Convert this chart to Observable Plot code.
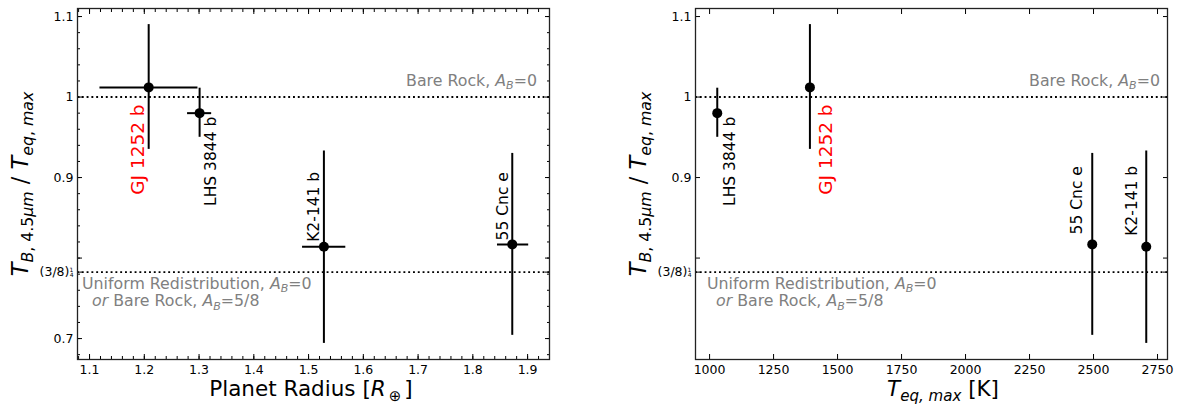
<!DOCTYPE html>
<html><head><meta charset="utf-8">
<script src="https://cdn.jsdelivr.net/npm/d3@7"></script>
<script src="https://cdn.jsdelivr.net/npm/@observablehq/plot@0.6"></script>
<style>
body{margin:0;background:#fff;}
#wrap{display:flex;width:1178px;height:407px;}
#wrap svg text{white-space:pre;}
</style></head><body><div id="wrap"></div>
<script>
// ---- data ----
const planets = ["GJ 1252 b", "LHS 3844 b", "K2-141 b", "55 Cnc e"];
const radius = [1.208, 1.301, 1.528, 1.872];
const radiusLo = [1.119, 1.279, 1.489, 1.845];
const radiusHi = [1.298, 1.323, 1.568, 1.902];
const teqMax = [1392, 1030, 2706, 2495];
const ratio = [1.012, 0.980, 0.814, 0.817];
const ratioLo = [0.935, 0.950, 0.694, 0.704];
const ratioHi = [1.090, 1.011, 0.933, 0.930];
const highlight = ["GJ 1252 b"];
const refLevels = [1, Math.pow(3 / 8, 0.25)];
const leftXTicks = [1.1, 1.2, 1.3, 1.4, 1.5, 1.6, 1.7, 1.8, 1.9];
const rightXTicks = [1000, 1250, 1500, 1750, 2000, 2250, 2500, 2750];
const leftYLabelTicks = [1.1, 1.0, 0.9, refLevels[1], 0.7];
const leftYTicks = [1.1, 1.0, 0.9, 0.8, refLevels[1], 0.7];
const rightYLabelTicks = [1.1, 1.0, 0.9, refLevels[1]];
const rightYTicks = [1.1, 1.0, 0.9, 0.8, refLevels[1]];

// ---- layout ----
const W = 589, H = 407, MT = 8, MB = 48;
const FONT = "DejaVu Sans";

function rich(parent, {x, y, anchor = "start", rotate = 0, size, fill = "black"}, parts) {
  const t = parent.append("text")
    .attr("transform", `translate(${x},${y})` + (rotate ? ` rotate(${rotate})` : ""))
    .attr("text-anchor", anchor).attr("font-family", FONT)
    .attr("font-size", size).attr("fill", fill).style("white-space", "pre");
  let shift = 0;
  for (const p of parts) {
    const s = p.sub ? size * 0.7 : size;
    const target = p.sub ? size * 0.22 : 0;
    const ts = t.append("tspan").text(p.t).attr("font-size", s);
    if (p.it) ts.attr("font-style", "italic");
    if (target !== shift) { ts.attr("dy", target - shift); shift = target; }
  }
  return t;
}

function panel(cfg) {
  const rows = planets.map((name, i) => ({
    name, x: cfg.xs[i], xlo: radiusLo[i], xhi: radiusHi[i],
    y: ratio[i], ylo: ratioLo[i], yhi: ratioHi[i]
  }));
  const marks = [
    Plot.ruleY(refLevels, {stroke: "black", strokeWidth: 1.9, strokeDasharray: "1.9,2.9"}),
    Plot.ruleX(rows, {x: "x", y1: "ylo", y2: "yhi", stroke: "black", strokeWidth: 2})
  ];
  if (cfg.xerr) marks.push(Plot.ruleY(rows, {y: "y", x1: "xlo", x2: "xhi", stroke: "black", strokeWidth: 2}));
  marks.push(Plot.dot(rows, {x: "x", y: "y", r: 5, fill: "black", stroke: null}));
  rows.forEach((r) => {
    const o = cfg.labels[r.name];
    const hi = highlight.includes(r.name);
    marks.push(Plot.text([r], {
      x: "x", y: "y", text: "name", rotate: -90, textAnchor: o.anchor, lineAnchor: "middle",
      dx: o.dx, dy: o.dy, fontSize: hi ? 18.5 : 15.5, fill: hi ? "#ff0000" : "black"
    }));
  });
  // inward ticks (major)
  const tick = {tickFormat: () => "", label: null, stroke: "black"};
  marks.push(
    Plot.axisX(cfg.xTicks, {anchor: "bottom", tickSize: 5, dy: -5, ...tick}),
    Plot.axisX(cfg.xTicks, {anchor: "top", tickSize: 5, dy: 5, ...tick}),
    Plot.axisY(cfg.yTicks, {anchor: "left", tickSize: 5, dx: 5, ...tick}),
    Plot.axisY(cfg.yTicks, {anchor: "right", tickSize: 5, dx: -5, ...tick})
  );
  if (cfg.minorX) marks.push(
    Plot.axisX(cfg.minorX, {anchor: "bottom", tickSize: 3, dy: -3, ...tick}),
    Plot.axisX(cfg.minorX, {anchor: "top", tickSize: 3, dy: 3, ...tick}),
    Plot.axisY(cfg.minorY, {anchor: "left", tickSize: 3, dx: 3, ...tick}),
    Plot.axisY(cfg.minorY, {anchor: "right", tickSize: 3, dx: -3, ...tick})
  );
  // tick labels
  marks.push(
    Plot.axisX(cfg.xTicks, {anchor: "bottom", tickSize: 0, tickPadding: 6, tickFormat: cfg.xFormat, label: null, fontSize: 12.5}),
    Plot.axisY(cfg.yLabelTicks, {anchor: "left", tickSize: 0, tickPadding: 4, label: null, fontSize: 12.5,
      tickFormat: d => d === refLevels[1] ? "(3/8)" : (d === 1 ? "1" : d3.format(".1f")(d))})
  );
  marks.push(Plot.frame({stroke: "#222", strokeWidth: 1.3}));

  const plot = Plot.plot({
    width: W, height: H, marginLeft: cfg.ml, marginRight: cfg.mr, marginTop: MT, marginBottom: MB,
    x: {domain: cfg.xDomain}, y: {domain: [0.674, 1.110]},
    style: {background: "white", fontFamily: FONT, fontSize: "12.5px", overflow: "visible"},
    marks
  });
  const svg = d3.select(plot);
  const ys = plot.scale("y");
  // (3/8)^(1/4) label
  svg.selectAll("text").filter(function () { return this.textContent === "(3/8)"; }).each(function () {
    const t = d3.select(this);
    t.append("tspan").attr("font-size", 6).attr("dy", -4.5).text("1");
    t.append("tspan").attr("font-size", 6).attr("dx", -3.6).attr("dy", 5).text("4");
  });
  const gray = "#808080";
  rich(svg, {x: W - cfg.mr - cfg.bareInset, y: ys.apply(1) - 10.7, anchor: "end", size: 15.8, fill: gray},
    [{t: "Bare Rock, "}, {t: "A", it: true}, {t: "B", it: true, sub: true}, {t: "=0"}]);
  rich(svg, {x: cfg.ml + cfg.uni1, y: ys.apply(refLevels[1]) + 17, size: 15.8, fill: gray},
    [{t: "Uniform Redistribution, "}, {t: "A", it: true}, {t: "B", it: true, sub: true}, {t: "=0"}]);
  rich(svg, {x: cfg.ml + cfg.uni2, y: ys.apply(refLevels[1]) + 34.4, size: 15.8, fill: gray},
    [{t: "or", it: true}, {t: " Bare Rock, "}, {t: "A", it: true}, {t: "B", it: true, sub: true}, {t: "=5/8"}]);
  // y title
  rich(svg, {x: cfg.ml - 49, y: 184, anchor: "middle", rotate: -90, size: 22.5},
    [{t: "T", it: true}, {t: "B", it: true, sub: true}, {t: ", 4.5", sub: true}, {t: "\u03bcm", it: true, sub: true},
     {t: " / "}, {t: "T", it: true}, {t: "eq", it: true, sub: true}, {t: ", ", sub: true}, {t: "max", it: true, sub: true}]);
  // x title
  rich(svg, {x: cfg.xTitleX, y: 396, anchor: "middle", size: 21.5}, cfg.xTitle);
  return plot;
}

const minorX = d3.range(54, 98).map(k => +(k * 0.02).toFixed(2));
const minorY = d3.range(34, 56).map(k => +(k * 0.02).toFixed(2));

const left = panel({
  ml: 77, mr: 40, xs: radius, xerr: true, xDomain: [1.078, 1.94],
  xTicks: leftXTicks, yTicks: leftYTicks, yLabelTicks: leftYLabelTicks,
  minorX, minorY, xFormat: d3.format(".1f"),
  bareInset: 12, uni1: 5, uni2: 15,
  labels: {
    "GJ 1252 b": {dx: -11, dy: 17, anchor: "end"},
    "LHS 3844 b": {dx: 11, dy: 3.5, anchor: "end"},
    "K2-141 b": {dx: -10, dy: -5, anchor: "start"},
    "55 Cnc e": {dx: -9, dy: -4, anchor: "start"}
  },
  xTitleX: 311,
  xTitle: [{t: "Planet Radius ["}, {t: "R", it: true}, {t: "\u2009\u2295\u2009", sub: true}, {t: "]"}]
});
const right = panel({
  ml: 106, mr: 11, xs: teqMax, xerr: false, xDomain: [945, 2789],
  xTicks: rightXTicks, yTicks: rightYTicks, yLabelTicks: rightYLabelTicks,
  minorX: null, xFormat: d => String(d),
  bareInset: 7, uni1: 12, uni2: 21,
  labels: {
    "GJ 1252 b": {dx: 16, dy: 17, anchor: "end"},
    "LHS 3844 b": {dx: 13, dy: 3.5, anchor: "end"},
    "K2-141 b": {dx: -14, dy: -11, anchor: "start"},
    "55 Cnc e": {dx: -15, dy: -10, anchor: "start"}
  },
  xTitleX: 354,
  xTitle: [{t: "T", it: true}, {t: "eq, max", it: true, sub: true}, {t: " [K]"}]
});
document.getElementById("wrap").append(left, right);
</script>
</body></html>
